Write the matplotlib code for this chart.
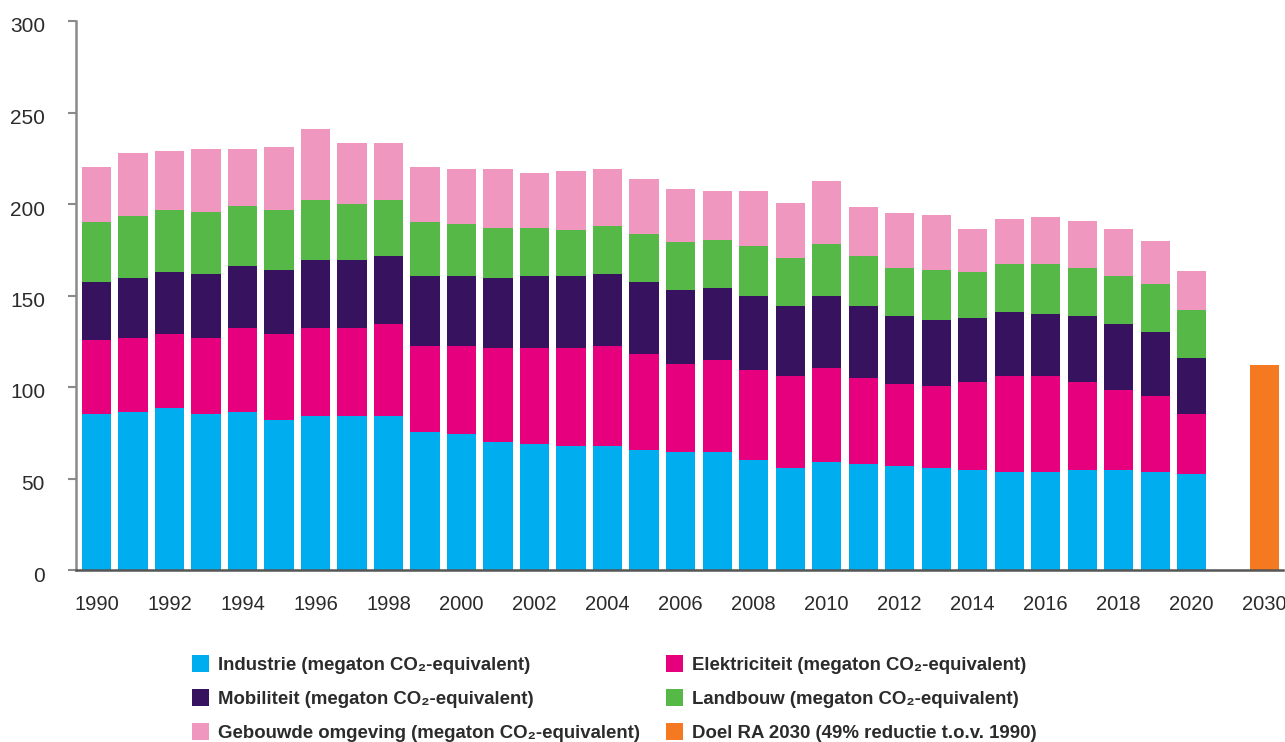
import numpy as np
import matplotlib
matplotlib.use('Agg')
import matplotlib.pyplot as plt
import matplotlib.transforms as mtransforms
from matplotlib.patches import Rectangle

# Jaren en uitstoot per sector (megaton CO2-equivalent)
jaren = list(range(1990, 2021))

industrie = [85.2, 86.3, 88.5, 85.2, 86.3, 82.0, 84.2, 84.2, 84.2, 75.4,
             74.3, 69.9, 68.9, 67.8, 67.8, 65.6, 64.5, 64.5, 60.1, 55.7,
             59.0, 57.9, 56.8, 55.7, 54.6, 53.6, 53.6, 54.6, 54.6, 53.6, 52.5]
elektriciteit = [40.5, 40.5, 40.5, 41.6, 45.9, 47.0, 48.0, 48.0, 50.2, 47.0,
                 48.1, 51.4, 52.4, 53.5, 54.6, 52.4, 48.1, 50.3, 49.2, 50.3,
                 51.4, 47.0, 44.8, 44.8, 48.1, 52.4, 52.4, 48.1, 43.8, 41.5, 32.7]
mobiliteit = [31.7, 32.8, 33.8, 34.9, 33.9, 34.9, 37.2, 37.2, 37.2, 38.3,
              38.3, 38.3, 39.4, 39.4, 39.3, 39.4, 40.4, 39.3, 40.4, 38.3,
              39.3, 39.4, 37.2, 36.1, 35.0, 35.0, 33.9, 36.1, 36.0, 35.0, 30.6]
landbouw = [32.8, 33.8, 33.9, 33.9, 32.8, 32.8, 32.8, 30.6, 30.6, 29.5,
            28.4, 27.3, 26.2, 25.1, 26.3, 26.2, 26.2, 26.2, 27.3, 26.2,
            28.4, 27.3, 26.2, 27.3, 25.1, 26.2, 27.3, 26.2, 26.3, 26.2, 26.3]
gebouwde = [30.0, 34.5, 32.3, 34.4, 31.1, 34.4, 38.8, 33.3, 31.1, 30.0,
            30.0, 32.2, 30.0, 32.2, 31.1, 30.1, 29.0, 26.8, 30.1, 30.0,
            34.5, 26.8, 30.1, 30.1, 23.5, 24.6, 25.7, 25.7, 25.6, 23.5, 21.3]

doel_jaar = 2030
doel_2030 = 112.0

labels = ['Industrie (megaton CO₂-equivalent)',
          'Elektriciteit (megaton CO₂-equivalent)',
          'Mobiliteit (megaton CO₂-equivalent)',
          'Landbouw (megaton CO₂-equivalent)',
          'Gebouwde omgeving (megaton CO₂-equivalent)',
          'Doel RA 2030 (49% reductie t.o.v. 1990)']
kleuren = ['#00AEEF', '#E6007E', '#37135F', '#56B847', '#F097C0', '#F47920']

plt.rcParams['font.family'] = ['Liberation Sans', 'DejaVu Sans']

W, H = 1285, 742
fig = plt.figure(figsize=(W / 100, H / 100), dpi=100)
ax = fig.add_axes([76 / W, 1 - 570 / H, (1283 - 76) / W, (570 - 21) / H])

# posities: jaren 0..30, een lege plek, dan 2030
x = np.arange(len(jaren))
x_doel = len(jaren) + 1
breedte = 0.8

bottom = np.zeros(len(jaren))
for serie, kleur in zip([industrie, elektriciteit, mobiliteit, landbouw, gebouwde], kleuren[:5]):
    ax.bar(x, serie, breedte, bottom=bottom, color=kleur, linewidth=0)
    bottom += np.array(serie)
ax.bar([x_doel], [doel_2030], breedte, color=kleuren[5], linewidth=0)

ax.set_xlim(-0.56, x_doel + 0.5)
ax.set_ylim(0, 300)
ax.set_yticks([0, 50, 100, 150, 200, 250, 300])

tick_pos = list(x[::2]) + [x_doel]
tick_lab = [str(j) for j in jaren[::2]] + [str(doel_jaar)]
ax.set_xticks(tick_pos)
ax.set_xticklabels(tick_lab)

ax.tick_params(axis='y', length=5.8, width=1.5, color='#8a8a8a', pad=16.5,
               labelsize=15, labelcolor='#2b2b2b')
ax.tick_params(axis='x', length=0, pad=18, labelsize=14.5, labelcolor='#2b2b2b')

# y-labels iets lager dan de streepjes, zoals in het origineel
offset = mtransforms.ScaledTranslation(0, -4 / 100, fig.dpi_scale_trans)
for lab in ax.get_yticklabels():
    lab.set_transform(lab.get_transform() + offset)

for s in ['top', 'right']:
    ax.spines[s].set_visible(False)
ax.spines['left'].set_color('#8a8a8a')
ax.spines['left'].set_linewidth(1.8)
ax.spines['bottom'].set_color('#555555')
ax.spines['bottom'].set_linewidth(1.8)

# Legenda handmatig: twee kolommen, drie rijen
kolom_x = [192, 666]
rij_y = [663, 697, 731]
volgorde = [[0, 2, 4], [1, 3, 5]]
for k, idxs in enumerate(volgorde):
    for r, i in enumerate(idxs):
        x0, yc = kolom_x[k], rij_y[r]
        fig.patches.append(Rectangle((x0 / W, 1 - (yc + 8.5) / H), 17 / W, 17 / H,
                                     transform=fig.transFigure, facecolor=kleuren[i],
                                     edgecolor='none'))
        fig.text((x0 + 26) / W, 1 - yc / H, labels[i], ha='left', va='center_baseline',
                 fontsize=13.4, fontweight='bold', color='#2b2b2b')

fig.savefig('out.png', dpi=100)
